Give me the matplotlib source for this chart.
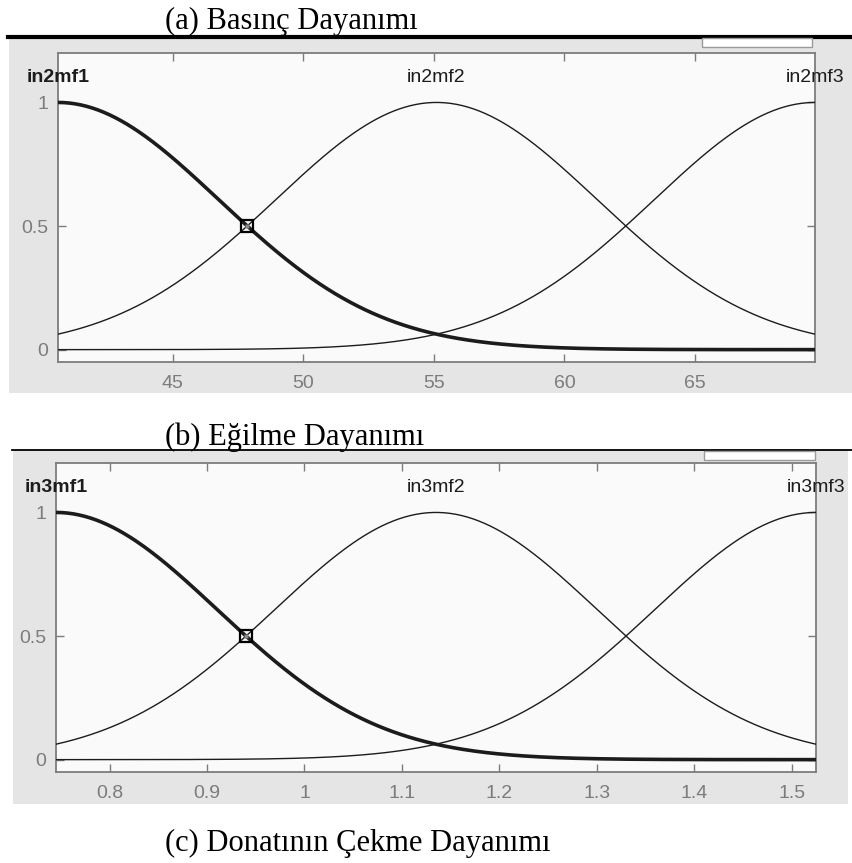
import numpy as np
import matplotlib
matplotlib.use("Agg")
import matplotlib.pyplot as plt
from matplotlib.patches import Rectangle
from matplotlib.lines import Line2D

W, H = 852, 863

# gaussmf parameters [sigma, center] for each membership function
in2_names = ["in2mf1", "in2mf2", "in2mf3"]
in2_params = [[6.16, 40.6], [6.16, 55.1], [6.16, 69.6]]
in2_range = [40.6, 69.6]
in2_ticks = [45, 50, 55, 60, 65]
in2_ticklabels = ["45", "50", "55", "60", "65"]

in3_names = ["in3mf1", "in3mf2", "in3mf3"]
in3_params = [[0.1656, 0.745], [0.1656, 1.135], [0.1656, 1.525]]
in3_range = [0.745, 1.525]
in3_ticks = [0.8, 0.9, 1.0, 1.1, 1.2, 1.3, 1.4, 1.5]
in3_ticklabels = ["0.8", "0.9", "1", "1.1", "1.2", "1.3", "1.4", "1.5"]

y_ticks = [0, 0.5, 1]
y_ticklabels = ["0", "0.5", "1"]

titles = ["(a) Basınç Dayanımı", "(b) Eğilme Dayanımı", "(c) Donatının Çekme Dayanımı"]

GRAY = "#e5e5e5"
FRAME = "#7c7c7c"
INK = "#1c1c1c"
SANS = ["Liberation Sans", "DejaVu Sans"]
SERIF = ["Liberation Serif", "DejaVu Serif"]


def fig_box(l, t, r, b):
    return [l / W, 1 - b / H, (r - l) / W, (b - t) / H]


def gaussmf(x, sigma, c):
    return np.exp(-((x - c) ** 2) / (2 * sigma ** 2))


def panel_background(fig, l, t, r, b, line_w, box):
    x0, y0, w, h = fig_box(l, t, r, b)
    fig.add_artist(Rectangle((x0, y0), w, h, transform=fig.transFigure,
                             facecolor=GRAY, edgecolor="none", zorder=0))
    fig.add_artist(Line2D([l / W - 0.001, 1], [1 - t / H, 1 - t / H],
                          transform=fig.transFigure, color="black",
                          linewidth=line_w, zorder=1))
    bx0, by0, bw, bh = fig_box(*box)
    fig.add_artist(Rectangle((bx0, by0), bw, bh, transform=fig.transFigure,
                             facecolor="white", edgecolor="#9a9a9a",
                             linewidth=1.0, zorder=1))


def mf_plot(ax, names, params, xr, ticks, ticklabels):
    ax.set_facecolor("#fafafa")
    x = np.linspace(xr[0], xr[1], 400)
    for i, (name, (s, c)) in enumerate(zip(names, params)):
        y = gaussmf(x, s, c)
        lw = 2.6 if i == 0 else 1.0
        ax.plot(x, y, color=INK, linewidth=lw, zorder=3)
        ax.text(c, 1.1, name, ha="center", va="center", fontsize=14,
                fontweight="bold" if i == 0 else "normal",
                family=SANS, color=INK, clip_on=False, zorder=5)
    # handle of the selected function at its half-height point
    s0, c0 = params[0]
    xh = c0 + s0 * np.sqrt(2 * np.log(2))
    ax.plot([xh], [0.5], marker="s", markersize=8, markerfacecolor="none",
            markeredgecolor="black", markeredgewidth=1.6, zorder=4, clip_on=False)
    ax.plot([xh], [0.5], marker="s", markersize=3, markerfacecolor="#888888",
            markeredgecolor="none", zorder=4, clip_on=False)

    ax.set_xlim(xr)
    ax.set_ylim(-0.05, 1.2)
    ax.set_xticks(ticks)
    ax.set_xticklabels(ticklabels)
    ax.set_yticks(y_ticks)
    ax.set_yticklabels(y_ticklabels)
    ax.tick_params(direction="in", length=6, width=1.0, color=FRAME,
                   top=True, right=True, labelcolor=FRAME, labelsize=14)
    ax.tick_params(axis="x", pad=9)
    ax.tick_params(axis="y", pad=7)
    for lab in ax.get_xticklabels() + ax.get_yticklabels():
        lab.set_family(SANS)
    for sp in ax.spines.values():
        sp.set_color(FRAME)
        sp.set_linewidth(1.3)


fig = plt.figure(figsize=(W / 100, H / 100), dpi=100, facecolor="white")

panel_background(fig, 9, 37, 852, 393, 3.0, (702, 38, 812, 47))
panel_background(fig, 13, 450, 848, 804, 1.3, (704, 451, 815, 460))

ax1 = fig.add_axes(fig_box(58, 53, 815, 362), zorder=2)
mf_plot(ax1, in2_names, in2_params, in2_range, in2_ticks, in2_ticklabels)

ax2 = fig.add_axes(fig_box(56, 463, 816, 772), zorder=2)
mf_plot(ax2, in3_names, in3_params, in3_range, in3_ticks, in3_ticklabels)

for txt, base in zip(titles, [29, 445, 851]):
    fig.text(165 / W, 1 - base / H, txt, ha="left", va="baseline",
             fontsize=22, family=SERIF, color="black")

fig.savefig("out.png", dpi=100, facecolor="white")
